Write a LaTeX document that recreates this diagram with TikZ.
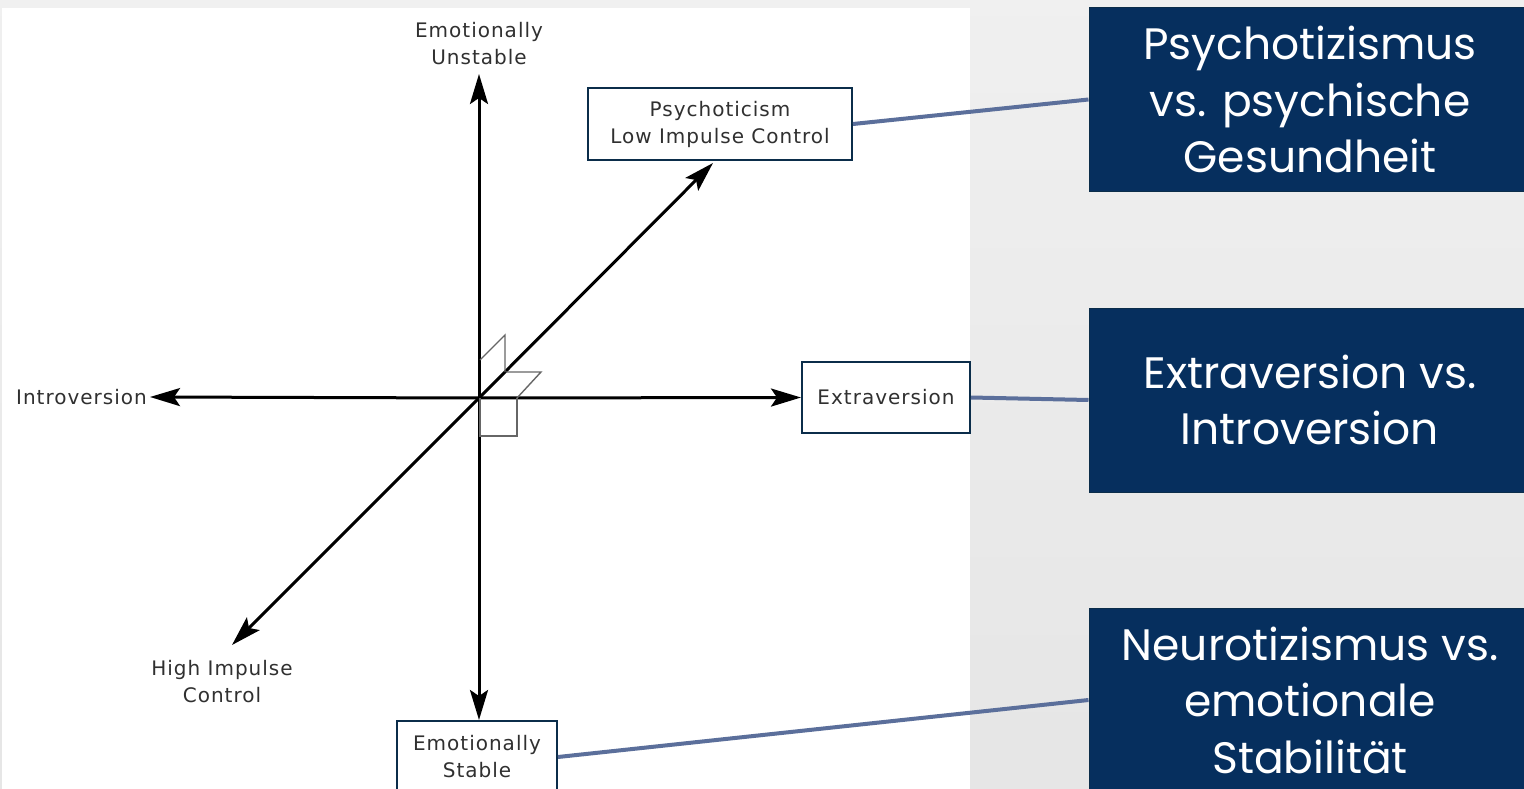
\documentclass[tikz,border=0pt]{standalone}
\usepackage{fontspec}
\setmainfont{DejaVu Sans}
\newfontfamily\chartfont[LetterSpace=5]{DejaVu Sans}
\newfontfamily\headfont{Poppins}
\usetikzlibrary{arrows.meta}
\definecolor{navy}{HTML}{062F5E}
\definecolor{boxedge}{HTML}{0B2D4A}
\definecolor{linkline}{HTML}{5B6F9B}
\definecolor{labeltext}{HTML}{303030}
\begin{document}
\begin{tikzpicture}[x=1pt,y=-1pt,
  axis/.style={line width=3pt,-{Stealth[length=30pt,width=18pt,inset=6pt]}},
  marker/.style={line width=1.4pt,draw=black!60},
  labelbox/.style={draw=boxedge,line width=2pt,fill=white,inner sep=0pt,align=center,
    text=labeltext,font=\chartfont\fontsize{20}{27}\selectfont},
  plainlabel/.style={align=center,text=labeltext,font=\chartfont\fontsize{20}{27}\selectfont},
  headbox/.style={fill=navy,draw=boxedge,line width=1pt,minimum width=442pt,minimum height=184pt,
    align=center,text=white,inner sep=0pt,font=\headfont\fontsize{44}{56.5}\selectfont},
  link/.style={draw=linkline,line width=4pt}]
\useasboundingbox (0,0) rectangle (1524,789);
\clip (0,0) rectangle (1524,789);
% page background and the white panel of the chart
\shade[top color=black!6,bottom color=black!10] (0,0) rectangle (1524,789);
\fill[white] (2,8) rectangle (970,789);

% axis labels
\node[plainlabel] (unst) at (479,44) {Emotionally\\Unstable};
\node[plainlabel,anchor=east,inner sep=3pt] (intro) at (150,397) {Introversion};
\node[plainlabel] (hic) at (222,682) {High Impulse\\Control};
\node[labelbox,minimum width=264pt,minimum height=72pt] (psy) at (720,124) {Psychoticism\\Low Impulse Control};
\node[labelbox,minimum width=168pt,minimum height=71pt] (extra) at (886,397.5) {Extraversion};
\node[labelbox,minimum width=160pt,minimum height=72pt] (stable) at (477,757) {Emotionally\\Stable};

% axes
\coordinate (o) at (479,398);
\coordinate (utip) at (479,74);
\coordinate (urtip) at (713,163);
\coordinate (dltip) at (232,645);
\draw[axis] (o) -- (utip);
\draw[axis] (o) -- (stable.north -| o);
\draw[axis] (o) -- (intro.east);
\draw[axis] (o) -- (extra.west);
\draw[axis] (o) -- (urtip);
\draw[axis] (o) -- (dltip);

% right-angle markers at the origin
\draw[marker] (480,398) -- (480,436) -- (517,436) -- (517,398);
\draw[marker] (517,398) -- (541,372) -- (506,372);
\draw[marker] (505,372) -- (505,335) -- (480,360);

% German factor names
\node[headbox] (hpsy) at (1310,99.5) {Psychotizismus\\vs. psychische\\Gesundheit};
\node[headbox] (hext) at (1310,400) {Extraversion vs.\\Introversion};
\node[headbox] (hneu) at (1310,700) {Neurotizismus vs.\\emotionale\\Stabilität};

% connectors
\draw[link] (psy.east) -- (hpsy.west);
\draw[link] (extra.east) -- (hext.west);
\draw[link] (stable.east) -- (hneu.west);
\end{tikzpicture}
\end{document}
